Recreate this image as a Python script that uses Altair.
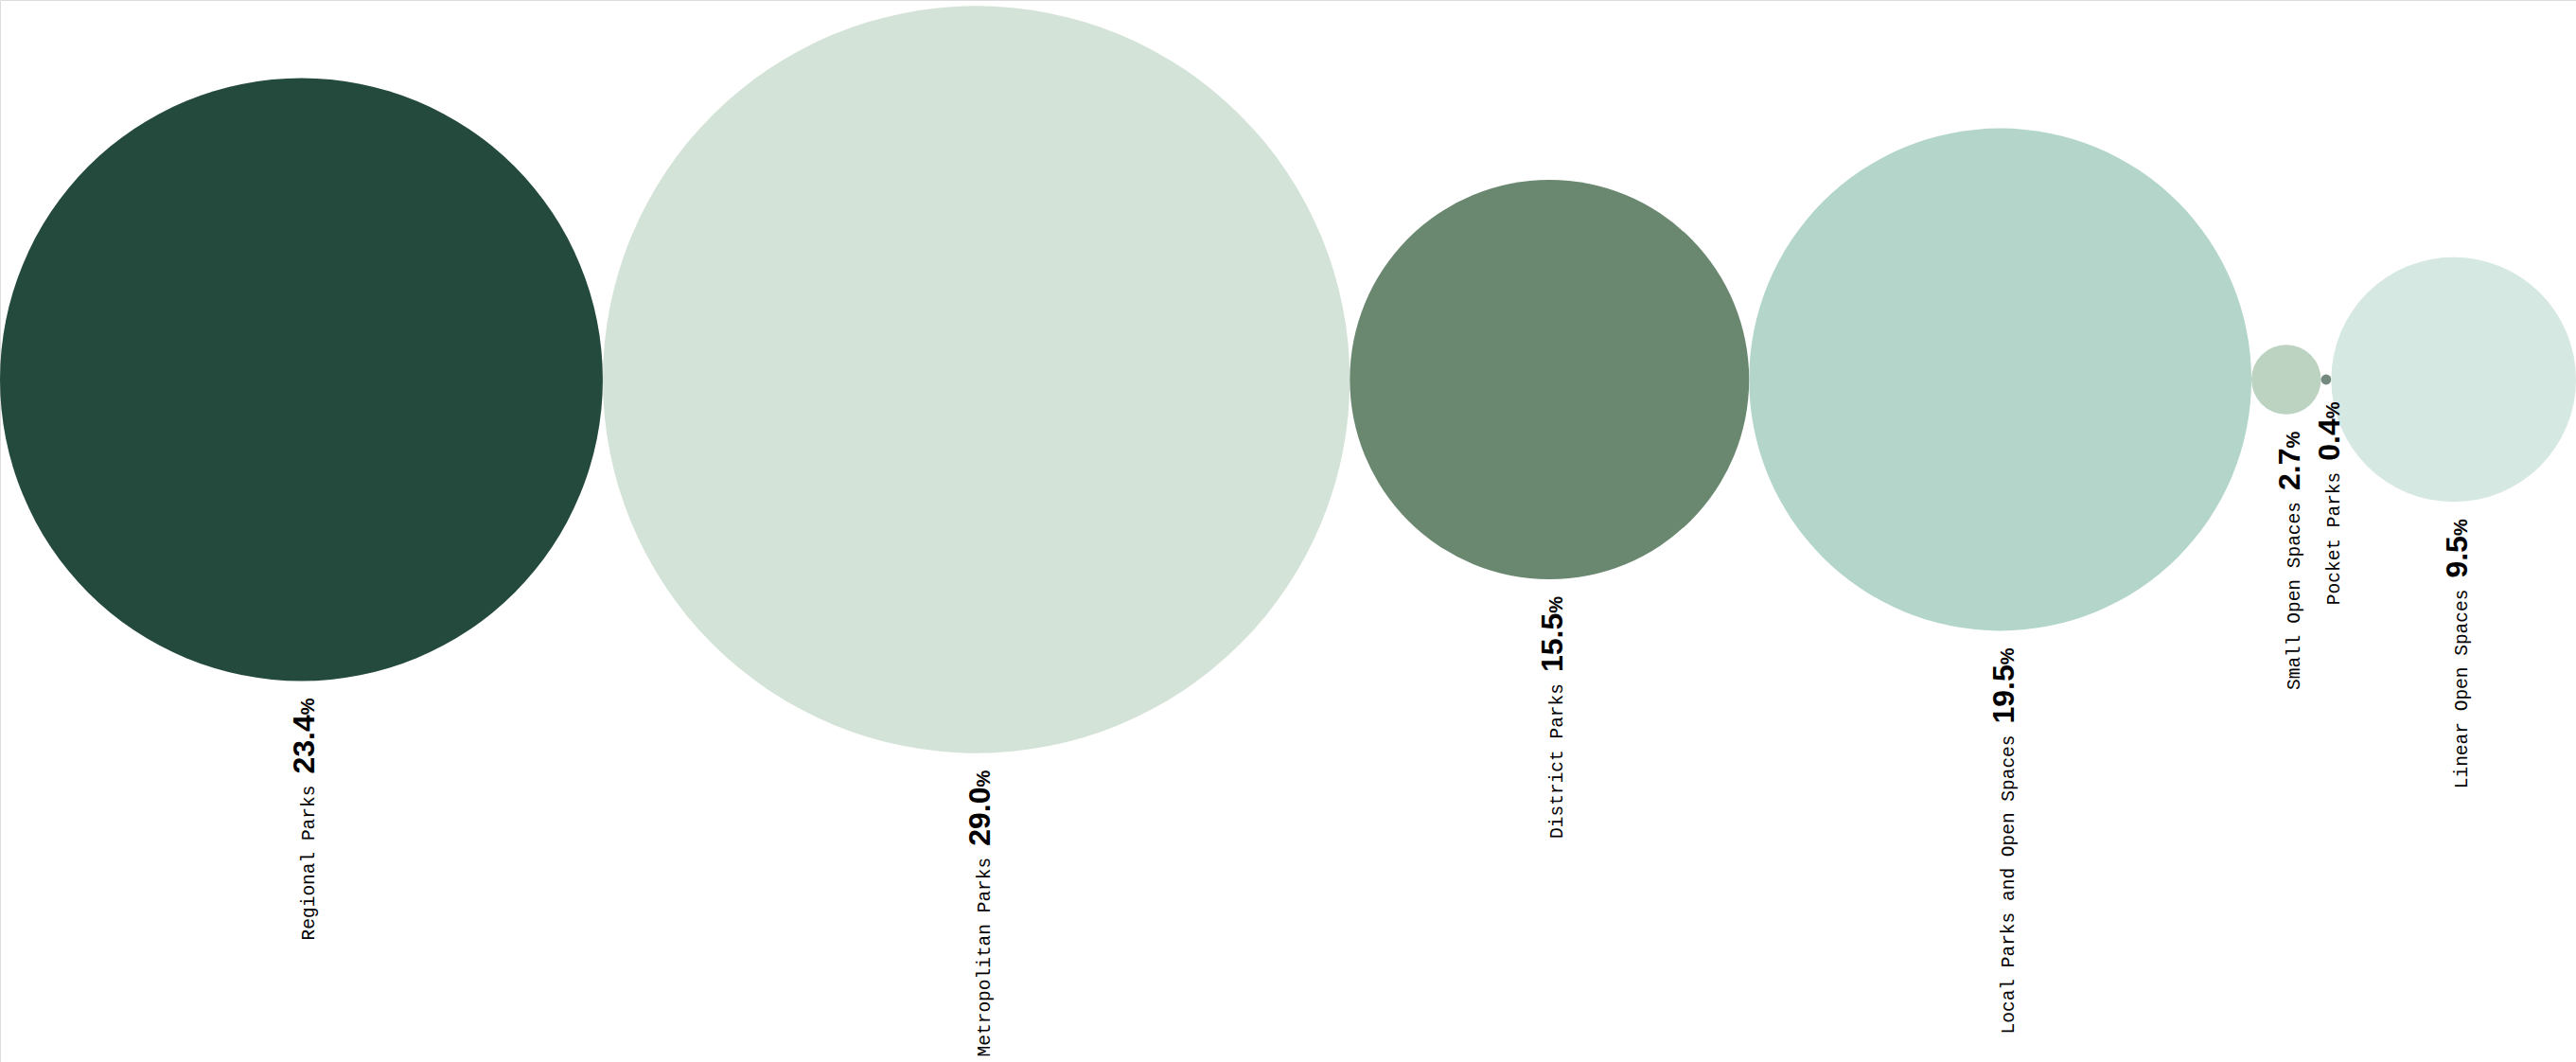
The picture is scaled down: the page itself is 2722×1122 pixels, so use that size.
import altair as alt
import pandas as pd

# Share of open space by park type (percent of total area)
categories = [
    "Regional Parks",
    "Metropolitan Parks",
    "District Parks",
    "Local Parks and Open Spaces",
    "Small Open Spaces",
    "Pocket Parks",
    "Linear Open Spaces",
]
shares = [23.4, 29.0, 15.5, 19.5, 2.7, 0.4, 9.5]
colors = ["#234a3c", "#d4e3d8", "#6a8770", "#b4d6ca", "#bbd3c0", "#758a7f", "#d6e8e2"]

W, H = 2722, 1122
CY = 401                      # vertical centre line of the circles
PX_PER_UNIT = W / 100.0       # one percent of diameter in pixels

df = pd.DataFrame({"category": categories, "value": shares, "order": list(range(len(categories)))})

base = (
    alt.Chart(df)
    .transform_window(cum="sum(value)", sort=[alt.SortField("order")])
    .transform_calculate(
        xc="datum.cum - datum.value / 2",
        r="datum.value / 2",
        num="format(datum.value, '.1f')",
    )
    # width of the bold number (tabular digits 0.556em, period 0.278em at 32px), in scale units
    .transform_calculate(
        ny="datum.r + ((length(datum.num) - 1) * 17.8 + 8.9) / %f" % PX_PER_UNIT
    )
)

xscale = alt.Scale(domain=[0, 100], range=[0, W])
yscale = alt.Scale(domain=[0, 50], range=[CY, CY + 50 * PX_PER_UNIT])
cscale = alt.Scale(domain=categories, range=colors)

# Vega circle symbols: diameter = sqrt(size), so a squared scale makes diameter ∝ share
circles = base.mark_circle(opacity=1, strokeWidth=0).encode(
    x=alt.X("xc:Q", scale=xscale, axis=None),
    y=alt.Y(datum=0, type="quantitative", scale=yscale, axis=None),
    size=alt.Size(
        "value:Q",
        scale=alt.Scale(type="pow", exponent=2, domain=[0, 100], range=[0, W * W]),
        legend=None,
    ),
    color=alt.Color("category:N", scale=cscale, legend=None),
)

GAP = 18

pct_sign = base.mark_text(
    angle=270, align="right", baseline="alphabetic", dx=-GAP, dy=14,
    font="Liberation Sans", fontWeight="bold", fontSize=20, color="#000000",
).encode(
    x=alt.X("xc:Q", scale=xscale, axis=None),
    y=alt.Y("r:Q", scale=yscale, axis=None),
    text=alt.value("%"),
)

numbers = base.mark_text(
    angle=270, align="right", baseline="alphabetic", dx=-(GAP + 17.8), dy=14,
    font="Liberation Sans", fontWeight="bold", fontSize=32, color="#000000",
).encode(
    x=alt.X("xc:Q", scale=xscale, axis=None),
    y=alt.Y("r:Q", scale=yscale, axis=None),
    text="num:N",
)

names = base.mark_text(
    angle=270, align="right", baseline="alphabetic", dx=-(GAP + 17.8 + 12), dy=14,
    font="Liberation Mono", fontSize=19.5, color="#000000",
).encode(
    x=alt.X("xc:Q", scale=xscale, axis=None),
    y=alt.Y("ny:Q", scale=yscale, axis=None),
    text="category:N",
)

chart = (
    alt.layer(circles, pct_sign, numbers, names)
    .properties(width=W, height=H, padding=0, autosize=alt.AutoSizeParams(type="none"))
    .configure_view(stroke=None)
    .configure(background="#ffffff")
)

chart.save("out.html", embed_options={"renderer": "svg", "actions": False})
